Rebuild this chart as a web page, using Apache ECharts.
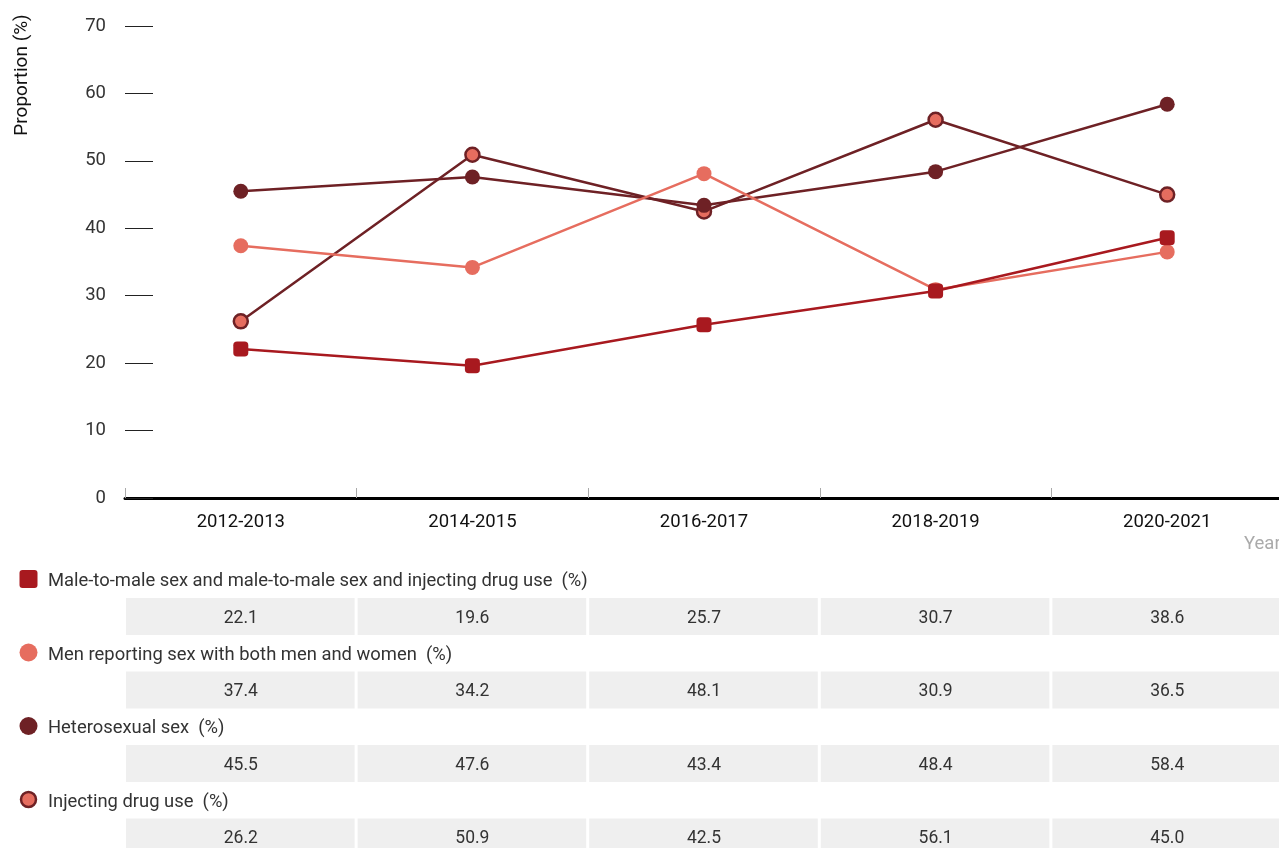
<!DOCTYPE html>
<html>
<head>
<meta charset="utf-8">
<style>
  html, body { margin: 0; padding: 0; background: #fff; overflow: hidden; }
  #chart { width: 1300px; height: 848px; }
</style>
<script src="https://cdn.jsdelivr.net/npm/echarts@6/dist/echarts.min.js"></script>
</head>
<body>
<div id="chart"></div>
<script>
// Reporting periods
const periods = ['2012-2013', '2014-2015', '2016-2017', '2018-2019', '2020-2021'];

// Proportion of notifications by exposure category (%)
const maleToMale = [22.1, 19.6, 25.7, 30.7, 38.6];
const bothSexes = [37.4, 34.2, 48.1, 30.9, 36.5];
const heterosexual = [45.5, 47.6, 43.4, 48.4, 58.4];
const injecting = [26.2, 50.9, 42.5, 56.1, 45.0];

// Series names
const names = [
  'Male-to-male sex and male-to-male sex and injecting drug use',
  'Men reporting sex with both men and women',
  'Heterosexual sex',
  'Injecting drug use'
];

// Y axis ticks
const yTicks = [0, 10, 20, 30, 40, 50, 60, 70];

const RED = '#a8191f';
const SALMON = '#e66d5f';
const MAROON = '#6e2125';
const FONT = 'Roboto, "Noto Sans", sans-serif';
const W = 400;

const seriesDefs = [
  { data: maleToMale, color: RED, symbol: 'roundRect', size: 15, fill: RED, border: null, z: 5 },
  { data: bothSexes, color: SALMON, symbol: 'circle', size: 15, fill: SALMON, border: null, z: 4 },
  { data: heterosexual, color: MAROON, symbol: 'circle', size: 15, fill: MAROON, border: null, z: 3 },
  { data: injecting, color: MAROON, symbol: 'circle', size: 14, fill: SALMON, border: MAROON, z: 2 }
];

const chart = echarts.init(document.getElementById('chart'), null, { renderer: 'canvas' });

// Grid geometry (shared by the chart and the data table below it)
const gridLeft = 125, gridTop = 26, gridWidth = 1158, gridHeight = 472;
const band = gridWidth / periods.length;

// Table underneath: legend row + value cells for each series
const graphics = [];
graphics.push({
  type: 'text',
  x: 22, y: 75,
  rotation: Math.PI / 2,
  style: { text: 'Proportion (%)', font: W + ' 19px ' + FONT, fill: '#111', align: 'center', verticalAlign: 'middle' }
});
const rowStart = 580, rowStep = 73.5;
seriesDefs.forEach((s, i) => {
  const ly = rowStart + i * rowStep;
  if (s.symbol === 'roundRect') {
    graphics.push({ type: 'rect', shape: { x: 19.5, y: ly - 10, width: 18, height: 18, r: 3 }, style: { fill: s.fill } });
  } else {
    graphics.push({
      type: 'circle', shape: { cx: 28.5, cy: ly - 1, r: s.border ? 7.5 : 9 },
      style: { fill: s.fill, stroke: s.border || null, lineWidth: s.border ? 2.5 : 0 }
    });
  }
  graphics.push({
    type: 'text', x: 48, y: ly + 1.5,
    style: { text: names[i] + '  (%)', font: W + ' 18.4px ' + FONT, fill: '#333', verticalAlign: 'middle' }
  });
  s.data.forEach((v, j) => {
    const cx = gridLeft + j * band;
    graphics.push({
      type: 'rect',
      shape: { x: cx + 1, y: ly + 18, width: band - 3, height: 37 },
      style: { fill: '#efefef' }
    });
    graphics.push({
      type: 'text', x: cx + band / 2, y: ly + 38.5,
      style: { text: v.toFixed(1), font: W + ' 17.5px ' + FONT, fill: '#333', align: 'center', verticalAlign: 'middle' }
    });
  });
});

const option = {
  animation: false,
  backgroundColor: '#fff',
  textStyle: { fontFamily: FONT },
  grid: { left: gridLeft, top: gridTop, width: gridWidth, height: gridHeight, containLabel: false },
  xAxis: {
    type: 'category',
    data: periods,
    boundaryGap: true,
    name: 'Year',
    nameLocation: 'end',
    nameGap: -39,
    nameTextStyle: { color: '#aaa', fontSize: 18.5, fontWeight: W, fontFamily: FONT, align: 'left', verticalAlign: 'top', padding: [37, 0, 0, 0] },
    axisLine: { show: true, lineStyle: { color: '#000', width: 3 } },
    axisTick: { show: true, inside: true, length: 10, lineStyle: { color: '#aaa', width: 1 } },
    axisLabel: { color: '#111', fontSize: 18.5, fontWeight: W, fontFamily: FONT, margin: 15 },
    splitLine: { show: false }
  },
  yAxis: {
    type: 'value',
    min: yTicks[0],
    max: yTicks[yTicks.length - 1],
    interval: yTicks[1] - yTicks[0],
    axisLine: { show: false },
    axisTick: { show: true, inside: true, length: 28, lineStyle: { color: '#222', width: 1 } },
    axisLabel: { color: '#333', fontSize: 18.5, fontWeight: W, fontFamily: FONT, margin: 19 },
    splitLine: { show: false }
  },
  series: seriesDefs.map((s, i) => ({
    name: names[i],
    type: 'line',
    data: s.data,
    z: s.z,
    symbol: s.symbol,
    symbolSize: s.size,
    showAllSymbol: true,
    lineStyle: { color: s.color, width: 2.5 },
    itemStyle: {
      color: s.fill,
      borderColor: s.border || s.fill,
      borderWidth: s.border ? 2.5 : 0
    },
    emphasis: { disabled: true }
  })),
  graphic: graphics
};

chart.setOption(option);
</script>
</body>
</html>
